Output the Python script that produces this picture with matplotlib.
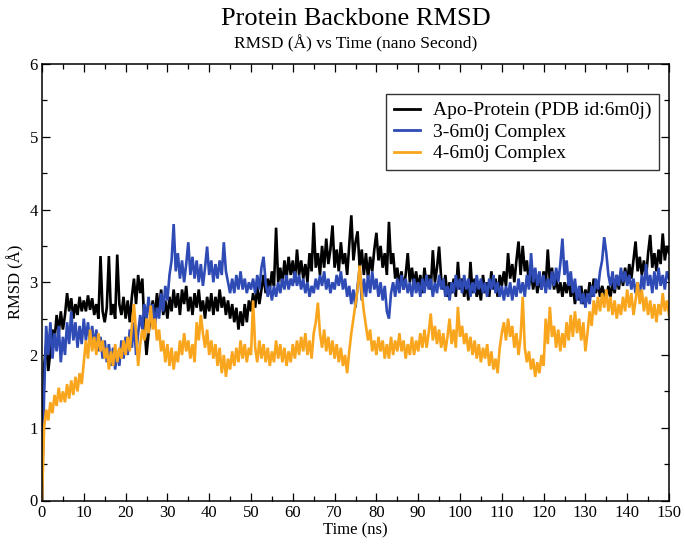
import numpy as np
import matplotlib
matplotlib.use("Agg")
import matplotlib.pyplot as plt

# RMSD values (Angstrom), every 0.5 ns from 0 to 150 ns
apo_protein = [
    0.0,
    1.85, 2.15, 1.78, 2.05, 2.35, 2.2, 2.55, 2.3, 2.6, 2.35, 2.55, 2.85, 2.6, 2.78, 2.5, 2.7, 2.55, 2.8, 2.6, 2.75,
    2.6, 2.82, 2.62, 2.78, 2.55, 2.7, 2.5, 3.36, 2.6, 2.45, 2.65, 3.36, 2.55, 2.7, 2.5, 3.38, 2.7, 2.55, 2.8, 2.5,
    2.75, 2.45, 2.8, 3.05, 2.7, 3.1, 2.85, 3.05, 2.4, 2.0, 2.3, 2.55, 2.75, 2.5, 2.85, 2.6, 2.9, 2.55, 2.75, 2.5,
    2.8, 2.6, 2.9, 2.65, 2.85, 2.55, 2.9, 2.7, 2.95, 2.6, 2.8, 2.55, 2.85, 2.65, 2.9, 2.6, 2.75, 2.5, 2.8, 2.6,
    2.85, 2.55, 2.8, 2.6, 2.9, 2.65, 2.8, 2.55, 2.75, 2.5, 2.7, 2.45, 2.65, 2.35, 2.6, 2.4, 2.7, 2.45, 2.75, 2.6,
    2.85, 2.65, 2.95, 2.7, 2.9, 3.1, 2.85, 3.05, 2.9, 3.15, 2.95, 3.75, 3.0, 3.2, 2.95, 3.3, 3.05, 3.35, 3.1, 3.3,
    3.0, 3.45, 3.1, 3.3, 3.05, 3.25, 3.0, 3.4, 3.15, 3.82, 3.2, 3.4, 3.1, 3.5, 3.2, 3.6, 3.25, 3.45, 3.78, 3.2,
    3.45, 3.15, 3.55, 3.25, 3.4, 3.1, 3.5, 3.92, 3.3, 3.55, 3.7, 3.2, 3.45, 3.1, 3.4, 3.05, 3.35, 3.15, 3.45, 3.68,
    3.3, 3.5, 3.2, 3.4, 3.1, 3.83, 3.25, 3.4, 3.05, 3.2, 2.95, 3.15, 2.9, 3.1, 3.4, 3.0, 3.2, 2.95, 3.15, 2.9,
    3.1, 2.85, 3.2, 2.95, 3.1, 2.9, 3.44, 3.0, 3.2, 3.49, 3.05, 2.9, 3.1, 2.8, 3.0, 2.85, 3.05, 2.8, 3.28, 2.9,
    3.05, 2.8, 3.0, 2.75, 3.28, 2.85, 3.05, 2.8, 2.95, 2.75, 3.1, 2.85, 3.0, 2.8, 3.15, 2.9, 3.05, 2.8, 3.1, 2.95,
    3.15, 2.95, 3.4, 3.05, 3.25, 3.0, 3.3, 3.56, 3.1, 3.5, 3.15, 3.3, 2.95, 3.15, 2.9, 3.1, 2.85, 3.05, 2.9, 3.15,
    2.95, 3.45, 3.0, 3.2, 2.9, 3.05, 2.85, 3.0, 2.8, 3.0, 2.85, 3.05, 2.8, 2.95, 2.7, 2.9, 2.75, 2.95, 2.7, 2.9,
    2.75, 3.0, 2.8, 3.05, 2.85, 3.0, 2.8, 2.95, 2.85, 2.75, 2.95, 2.8, 3.0, 2.85, 3.1, 2.9, 3.15, 2.95, 3.2, 3.0,
    3.25, 3.05, 3.3, 3.56, 3.15, 3.35, 3.1, 3.3, 3.05, 3.4, 3.65, 3.2, 3.4, 3.15, 3.45, 3.25, 3.67, 3.3, 3.5, 3.4,
]

complex_3 = [
    0.0,
    1.45, 2.4, 2.0, 2.45, 1.95, 2.3, 2.05, 2.4, 1.9, 2.25, 2.0, 2.45, 2.15, 2.6, 2.2, 2.45, 2.1, 2.4, 2.15, 2.5,
    2.2, 2.45, 2.15, 2.4, 2.1, 2.35, 2.05, 2.25, 1.95, 2.2, 1.9, 2.15, 1.85, 2.1, 1.8, 2.05, 1.85, 2.2, 1.95, 2.25,
    2.0, 2.35, 2.1, 2.45, 2.0, 2.3, 2.55, 2.35, 2.7, 2.5, 2.8, 2.45, 2.7, 2.4, 2.65, 2.5, 2.85, 2.6, 2.95, 2.75,
    3.1, 3.3, 3.8, 3.15, 3.4, 3.05, 3.3, 3.0, 3.25, 3.55, 3.1, 3.35, 3.05, 3.3, 3.0, 3.25, 2.95, 3.2, 3.49, 3.1,
    3.3, 3.0, 3.25, 3.05, 3.3, 3.1, 3.55, 3.15, 3.0, 2.85, 3.05, 2.85, 3.1, 2.9, 3.15, 2.9, 3.05, 2.85, 3.0, 2.9,
    3.05, 2.85, 3.1, 2.9, 3.2, 3.35, 3.0, 2.8, 2.95, 2.75, 2.95, 2.8, 3.0, 2.85, 3.05, 2.9, 3.1, 2.9, 3.05, 2.95,
    3.15, 2.95, 3.1, 2.9, 3.05, 2.85, 3.0, 2.8, 2.95, 2.85, 3.05, 2.9, 3.1, 2.95, 3.15, 2.9, 3.05, 2.85, 3.0, 2.9,
    3.1, 2.95, 3.15, 2.9, 3.05, 2.8, 2.95, 2.7, 2.9, 2.65, 2.95, 3.2, 2.75, 3.05, 2.8, 3.1, 2.85, 3.15, 2.9, 3.05,
    2.8, 3.0, 2.75, 2.95, 2.6, 2.5, 2.85, 3.0, 2.8, 3.05, 2.85, 3.1, 2.9, 3.05, 2.85, 3.0, 2.8, 3.05, 2.85, 3.0,
    2.8, 3.05, 2.85, 3.1, 2.9, 3.05, 2.8, 3.0, 2.85, 3.1, 2.9, 3.05, 2.8, 2.95, 2.75, 3.0, 2.85, 3.1, 2.9, 3.05,
    2.85, 3.1, 2.9, 3.05, 2.8, 3.0, 2.85, 3.1, 2.9, 3.05, 2.85, 3.0, 2.8, 3.05, 2.9, 3.1, 2.85, 3.0, 2.8, 2.95,
    2.75, 2.95, 2.8, 3.0, 2.75, 2.95, 2.8, 3.05, 2.85, 3.0, 2.8, 3.1, 2.9, 3.4, 3.0, 3.2, 2.95, 3.15, 2.9, 3.1,
    2.85, 3.05, 2.9, 3.15, 2.95, 3.2, 3.0, 3.25, 3.6, 3.1, 3.3, 2.95, 3.15, 2.85, 3.05, 2.75, 2.95, 2.7, 2.85, 2.65,
    2.85, 2.7, 2.95, 2.8, 3.05, 2.9, 3.15, 3.3, 3.62, 3.4, 3.1, 2.95, 3.15, 2.9, 3.1, 2.95, 3.2, 3.0, 3.15, 2.95,
    3.1, 2.9, 3.05, 2.85, 3.0, 2.8, 3.1, 2.9, 3.25, 2.95, 3.1, 2.85, 3.15, 2.9, 3.2, 2.95, 3.1, 2.9, 3.15, 3.05,
]

complex_4 = [
    0.0,
    1.0, 1.25, 1.1, 1.35, 1.2, 1.45, 1.3, 1.55, 1.35, 1.5, 1.35, 1.6, 1.4, 1.65, 1.45, 1.7, 1.5, 1.75, 1.6, 1.9,
    2.2, 1.95, 2.35, 2.05, 2.25, 2.0, 2.3, 2.05, 2.2, 1.95, 2.1, 1.8, 2.05, 1.85, 2.15, 1.9, 2.1, 1.95, 2.2, 2.0,
    2.25, 2.05, 2.4, 2.7, 2.3, 1.85, 2.15, 2.35, 2.2, 2.5, 2.3, 2.68, 2.35, 2.5, 2.2, 2.35, 2.05, 2.2, 1.9, 2.15,
    1.85, 2.1, 1.8, 2.05, 1.9, 2.2, 2.0, 2.3, 2.05, 2.2, 1.95, 2.15, 1.9, 2.45, 2.2, 2.55, 2.3, 2.1, 2.35, 2.0,
    2.2, 1.95, 2.15, 1.85, 2.1, 1.75, 2.0, 1.7, 1.95, 1.8, 2.05, 1.85, 2.1, 1.9, 2.2, 1.95, 2.15, 1.9, 2.1, 2.0,
    2.75, 2.1, 1.9, 2.2, 1.95, 2.15, 1.9, 2.1, 1.85, 2.05, 1.9, 2.2, 1.95, 2.15, 1.9, 2.1, 1.85, 2.05, 1.9, 2.15,
    1.95, 2.2, 2.0, 2.25, 2.05, 2.3, 2.0, 2.2, 1.95, 2.3, 2.45, 2.72, 2.3, 2.1, 2.35, 2.05, 2.25, 2.0, 2.2, 1.95,
    2.15, 1.9, 2.1, 1.85, 2.0, 1.75, 2.05, 2.3, 2.5, 2.7, 2.9, 3.23, 2.85, 2.6, 2.4, 2.2, 2.35, 2.05, 2.2, 2.0,
    2.25, 2.05, 2.2, 1.95, 2.15, 1.95, 2.25, 2.0, 2.2, 2.05, 2.3, 2.05, 2.2, 1.95, 2.15, 2.0, 2.25, 2.0, 2.2, 2.05,
    2.3, 2.1, 2.35, 2.1, 2.3, 2.57, 2.2, 2.4, 2.15, 2.35, 2.1, 2.3, 2.05, 2.25, 2.5, 2.15, 2.35, 2.1, 2.66, 2.25,
    2.4, 2.15, 2.3, 2.05, 2.25, 2.0, 2.2, 1.95, 2.15, 1.9, 2.1, 1.95, 2.15, 1.85, 2.05, 1.8, 1.95, 1.75, 2.1, 2.3,
    2.45, 2.2, 2.5, 2.25, 2.4, 2.1, 2.3, 2.0, 2.25, 2.8, 2.1, 1.9, 2.05, 1.8, 1.95, 1.7, 1.9, 1.75, 2.0, 1.85,
    2.5, 2.15, 2.66, 2.25, 2.4, 2.1, 2.35, 2.05, 2.3, 2.1, 2.45, 2.2, 2.55, 2.25, 2.6, 2.3, 2.5, 2.2, 2.45, 2.05,
    2.3, 2.6, 2.4, 2.75, 2.55, 2.8, 2.6, 2.85, 2.65, 2.9, 2.6, 2.8, 2.55, 2.75, 2.5, 2.7, 2.55, 2.8, 2.6, 2.9,
    2.65, 2.85, 2.55, 2.75, 3.0, 2.7, 2.9, 2.6, 2.8, 2.55, 2.75, 2.5, 2.7, 2.45, 2.7, 2.55, 2.85, 2.6, 2.75, 2.55,
]

series_labels = ["Apo-Protein (PDB id:6m0j)", "3-6m0j Complex", "4-6m0j Complex"]
series_colors = ["#000000", "#2f4bb5", "#f9a61e"]
x_ticks = list(range(0, 151, 10))
y_ticks = list(range(0, 7))

plt.rcParams["font.family"] = ["Liberation Serif", "DejaVu Serif"]

fig = plt.figure(figsize=(6.85, 5.44), dpi=100)
ax = fig.add_axes([42 / 685, 43.5 / 544, 627 / 685, 436.5 / 544])

for vals, lab, col in zip([apo_protein, complex_3, complex_4], series_labels, series_colors):
    t = np.linspace(0, 150, len(vals))
    ax.plot(t, vals, color=col, lw=1.9, label=lab, solid_joinstyle="miter")

ax.set_xlim(0, 150)
ax.set_ylim(0, 6)
ax.set_xticks(x_ticks)
ax.set_yticks(y_ticks)
ax.set_xticks(np.arange(5, 150, 10), minor=True)
ax.set_yticks(np.arange(0.5, 6, 1), minor=True)
ax.tick_params(which="both", direction="in", top=True, right=True, width=0.9, labelsize=12, pad=3)
ax.tick_params(which="major", length=6)
ax.tick_params(which="minor", length=3.5)
for s in ax.spines.values():
    s.set_linewidth(1.1)

ax.set_xlabel("Time (ns)", fontsize=12, labelpad=1)
ax.set_ylabel("RMSD (Å)", fontsize=12, labelpad=4)

fig.text(355.5 / 685, 1 - 19 / 544, "Protein Backbone RMSD", ha="center", va="center", fontsize=19)
fig.text(355.5 / 685, 1 - 44 / 544, "RMSD (Å) vs Time (nano Second)", ha="center", va="center", fontsize=12.5)

leg = ax.legend(loc="upper left", bbox_to_anchor=((386 - 42) / 627, (500.5 - 94) / 436.5),
                fontsize=14, frameon=True, fancybox=False, edgecolor="black",
                handlelength=1.35, handletextpad=0.65, borderpad=0.4, labelspacing=0.2,
                borderaxespad=0)
leg.get_frame().set_linewidth(1.0)
for line in leg.get_lines():
    line.set_linewidth(2.0)

fig.savefig("out.png", dpi=100)
